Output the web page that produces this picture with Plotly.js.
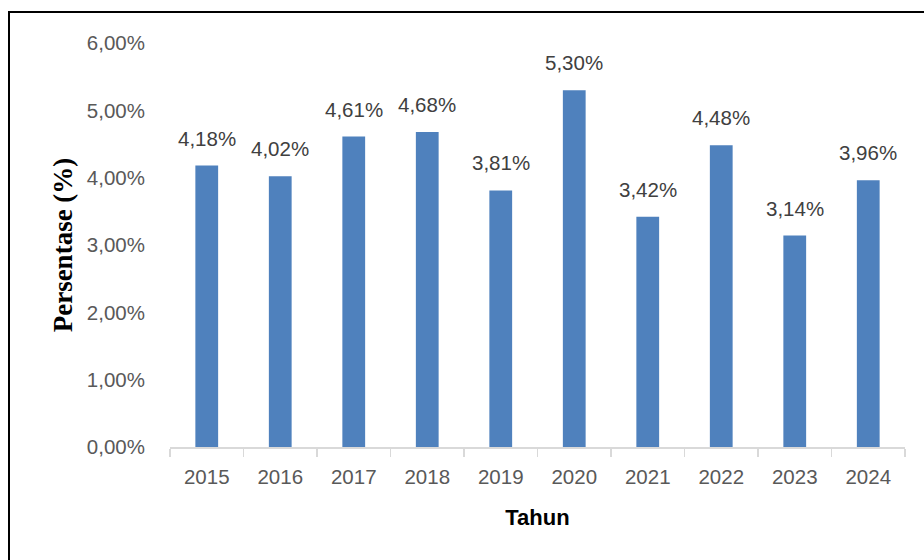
<!DOCTYPE html>
<html>
<head>
<meta charset="utf-8">
<script src="https://cdn.plot.ly/plotly-3.0.1.min.js"></script>
<style>
html,body{margin:0;padding:0;width:924px;height:560px;overflow:hidden;background:#fff;}
#chart{position:absolute;left:0;top:0;width:924px;height:560px;}
#frame{position:absolute;left:8px;top:11px;width:1000px;height:1000px;border:2px solid #000;pointer-events:none;}
</style>
</head>
<body>
<div id="chart"></div>
<div id="frame"></div>
<script>
const years = ['2015','2016','2017','2018','2019','2020','2021','2022','2023','2024'];
const values = [4.18, 4.02, 4.61, 4.68, 3.81, 5.30, 3.42, 4.48, 3.14, 3.96];
const labels = ['4,18%','4,02%','4,61%','4,68%','3,81%','5,30%','3,42%','4,48%','3,14%','3,96%'];
const yTickVals = [0,1,2,3,4,5,6];
const yTickText = ['0,00%','1,00%','2,00%','3,00%','4,00%','5,00%','6,00%'];

const FONT = 'Liberation Sans, Arial, sans-serif';

const trace = {
  type:'bar', x: years, y: values,
  marker:{color:'#4f81bd'},
  hoverinfo:'none'
};

const annotations = years.map((yr,i)=>({
  x: i, y: values[i], xref:'x', yref:'y',
  text: labels[i], showarrow:false, yanchor:'bottom', yshift:14,
  font:{family:FONT, size:20.5, color:'#404040'}
}));

const layout = {
  width:924, height:560,
  margin:{l:170, r:19, t:43, b:113},
  paper_bgcolor:'#fff', plot_bgcolor:'#fff',
  bargap:0.69,
  showlegend:false,
  xaxis:{
    type:'category', range:[-0.5, years.length-0.5],
    showline:true, linecolor:'#d9d9d9', linewidth:1.5,
    ticks:'outside', tickson:'boundaries', ticklen:8, tickcolor:'#d9d9d9', tickwidth:1.5,
    tickfont:{family:FONT, size:20.5, color:'#595959'},
    ticklabelstandoff:11,
    showgrid:false, zeroline:false,
    title:{text:'<b>Tahun</b>', font:{family:FONT, size:22, color:'#000'}, standoff:22}
  },
  yaxis:{
    range:[0,6], tickvals:yTickVals, ticktext:yTickText,
    showgrid:false, zeroline:false, showline:false,
    ticks:'', ticklabelstandoff:24,
    tickfont:{family:FONT, size:20.5, color:'#595959'},
    title:{text:'<b>Persentase (%)</b>', font:{family:'Liberation Serif, Times New Roman, serif', size:27, color:'#000'}, standoff:6}
  },
  annotations: annotations
};

Plotly.newPlot('chart',[trace],layout,{staticPlot:true, displayModeBar:false});
</script>
</body>
</html>
